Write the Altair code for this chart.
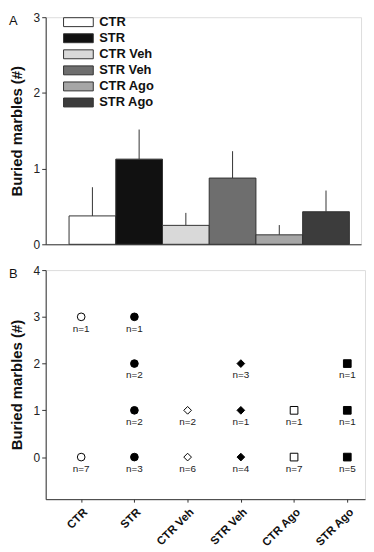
import altair as alt
import pandas as pd

groups = ["CTR", "STR", "CTR Veh", "STR Veh", "CTR Ago", "STR Ago"]
means = [0.375, 1.125, 0.25, 0.875, 0.125, 0.43]
sems = [0.379, 0.391, 0.165, 0.355, 0.129, 0.28]

pt_group = ["CTR", "CTR", "STR", "STR", "STR", "STR", "CTR Veh", "CTR Veh",
            "STR Veh", "STR Veh", "STR Veh", "CTR Ago", "CTR Ago",
            "STR Ago", "STR Ago", "STR Ago"]
pt_value = [3, 0, 3, 2, 1, 0, 1, 0, 2, 1, 0, 1, 0, 2, 1, 0]
pt_n = [1, 7, 1, 2, 2, 3, 2, 6, 3, 1, 4, 1, 7, 1, 1, 5]

bar_colors = ["#ffffff", "#111111", "#d9d9d9", "#6e6e6e", "#a6a6a6", "#3c3c3c"]
pt_fill = ["#ffffff", "#000000", "#ffffff", "#000000", "#ffffff", "#000000"]
pt_shape = ["circle", "circle", "diamond", "diamond", "square", "square"]
pt_size = [60, 60, 80, 80, 49, 49]

FONT = "Liberation Sans"
AX = "#333333"

dfA = pd.DataFrame({"group": groups, "mean": means, "sem": sems})
dfB = pd.DataFrame({"group": pt_group, "value": pt_value, "n": pt_n})


def xscale():
    return alt.Scale(domain=groups, paddingInner=0, paddingOuter=0.375, align=0.667)


def yaxis(vals):
    return alt.Axis(values=vals, format="d", title="Buried marbles (#)", titleFontSize=15,
                    titleFontWeight="bold", titleFont=FONT, titlePadding=9,
                    titleColor="#111", labelFont=FONT, labelFontSize=12,
                    labelColor="#222", tickSize=4, labelPadding=2, grid=False,
                    domainColor=AX, tickColor=AX)


def fill_scale():
    return alt.Scale(domain=groups, range=bar_colors)


def leg_y():
    return alt.Y("group:N", scale=alt.Scale(domain=groups, range=[5, 86], padding=0), axis=None)


baseA = alt.Chart(dfA)
bars = baseA.mark_bar(stroke="#333", strokeWidth=1).encode(
    x=alt.X("group:N", scale=xscale(), sort=groups,
            axis=alt.Axis(labels=False, ticks=False, title=None, domainColor=AX)),
    y=alt.Y("mean:Q", scale=alt.Scale(domain=[0, 3], nice=False), axis=yaxis([0, 1, 2, 3])),
    fill=alt.Fill("group:N", scale=fill_scale(), legend=None),
)
err = baseA.transform_calculate(top="datum.mean + datum.sem").mark_rule(
    color="#333", strokeWidth=1).encode(
    x=alt.X("group:N", scale=xscale(), sort=groups),
    y="mean:Q", y2="top:Q")
letterA = alt.Chart(pd.DataFrame({"t": ["A"]})).mark_text(
    align="left", baseline="top", fontSize=13, font=FONT, color="#111").encode(
    x=alt.value(-37), y=alt.value(-2), text="t:N")

leg_sw = baseA.mark_point(shape="M-3.33,-1H3.33V1H-3.33Z", size=81, filled=True,
                          stroke="#333", strokeWidth=1, opacity=1).encode(
    x=alt.value(33), y=leg_y(),
    fill=alt.Fill("group:N", scale=fill_scale(), legend=None))
leg_tx = baseA.mark_text(align="left", baseline="middle", fontSize=13, fontWeight="bold",
                         font=FONT, color="#111").encode(
    x=alt.value(54), y=leg_y(), text="group:N")

main_A = alt.layer(err, bars, letterA)
panelA = alt.layer(main_A, leg_sw, leg_tx).resolve_scale(y="independent").properties(
    width=318, height=229)

baseB = alt.Chart(dfB)
pts = baseB.mark_point(filled=False, stroke="#000", strokeWidth=1, opacity=1).encode(
    x=alt.X("group:N", scale=xscale(), sort=groups,
            axis=alt.Axis(title=None, labelAngle=-45, labelFont=FONT, labelFontSize=11.5,
                          labelFontWeight="bold", labelColor="#111", tickSize=3,
                          labelPadding=4, domainColor=AX, tickColor=AX)),
    y=alt.Y("value:Q", scale=alt.Scale(domain=[-0.9, 4], nice=False), axis=yaxis([0, 1, 2, 3, 4])),
    fill=alt.Fill("group:N", scale=alt.Scale(domain=groups, range=pt_fill), legend=None),
    shape=alt.Shape("group:N", scale=alt.Scale(domain=groups, range=pt_shape), legend=None),
    size=alt.Size("group:N", scale=alt.Scale(domain=groups, range=pt_size), legend=None),
)
labels = baseB.transform_calculate(lab="'n=' + datum.n").mark_text(
    dy=12, fontSize=10, font=FONT, color="#222").encode(
    x=alt.X("group:N", scale=xscale(), sort=groups),
    y="value:Q", text="lab:N")
letterB = alt.Chart(pd.DataFrame({"t": ["B"]})).mark_text(
    align="left", baseline="top", fontSize=13, font=FONT, color="#111").encode(
    x=alt.value(-37), y=alt.value(-2), text="t:N")

panelB = alt.layer(pts, labels, letterB).properties(width=322, height=231)

chart = alt.vconcat(panelA, panelB, spacing=12).resolve_scale(
    fill="independent", shape="independent", size="independent").resolve_legend(
    fill="independent", shape="independent", size="independent").configure_view(
    stroke=None).configure(background="white", padding=0)

chart.save("out.html", embed_options={"renderer": "svg", "actions": False})
